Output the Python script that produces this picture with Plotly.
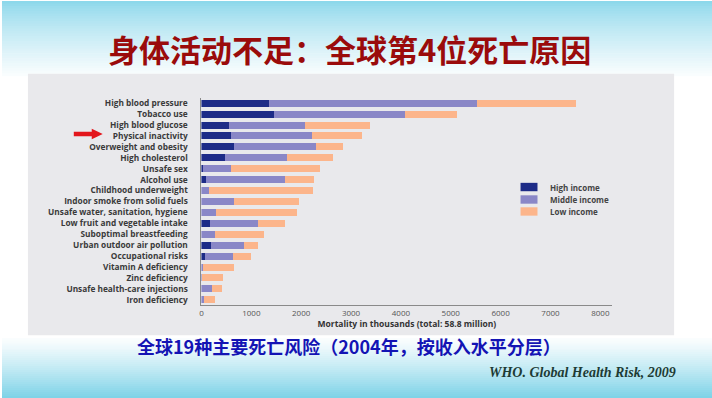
import plotly.graph_objects as go

W, H = 712, 398

categories = [
    "High blood pressure", "Tobacco use", "High blood glucose", "Physical inactivity",
    "Overweight and obesity", "High cholesterol", "Unsafe sex", "Alcohol use",
    "Childhood underweight", "Indoor smoke from solid fuels",
    "Unsafe water, sanitation, hygiene", "Low fruit and vegetable intake",
    "Suboptimal breastfeeding", "Urban outdoor air pollution", "Occupational risks",
    "Vitamin A deficiency", "Zinc deficiency", "Unsafe health-care injections",
    "Iron deficiency",
]
high_income = [1350, 1450, 550, 590, 660, 470, 27, 93, 0, 0, 0, 180, 0, 187, 73, 0, 0, 0, 0]
middle_income = [4180, 2625, 1530, 1620, 1635, 1245, 566, 1580, 153, 660, 293, 960, 273, 666, 567, 40, 20, 220, 47]
low_income = [1990, 1045, 1305, 1005, 535, 915, 1775, 580, 2080, 1305, 1615, 545, 975, 280, 345, 615, 415, 200, 220]
series_names = ["High income", "Middle income", "Low income"]
series_colors = ["#1d2b87", "#8a87c7", "#fcb58b"]
x_ticks = [0, 1000, 2000, 3000, 4000, 5000, 6000, 7000, 8000]

title_text = "身体活动不足：全球第4位死亡原因"
caption_text = "全球19种主要死亡风险（2004年，按收入水平分层）"
source_text = "WHO. Global Health Risk, 2009"
axis_title = "Mortality in thousands (total: 58.8 million)"


def px(x):
    return x / W


def py(y):
    return 1 - y / H


fig = go.Figure()
for name, vals, col in zip(series_names, [high_income, middle_income, low_income], series_colors):
    fig.add_trace(go.Bar(
        y=categories, x=vals, name=name, orientation="h",
        marker=dict(color=col, line=dict(width=0)), showlegend=False,
    ))

shapes = []


def lerp(c1, c2, t):
    return tuple(round(a + (b - a) * t) for a, b in zip(c1, c2))


top_c = (136, 214, 234)
white = (250, 253, 254)
bot_c = (124, 210, 231)
n = 30
for i in range(n):
    y0 = 75 * i / n
    y1 = 75 * (i + 1) / n + 0.5
    t = (i + 0.5) / n
    c = lerp(top_c, white, t ** 0.75)
    shapes.append(dict(type="rect", xref="paper", yref="paper", x0=0, x1=1,
                       y0=py(y1), y1=py(y0), fillcolor="rgb(%d,%d,%d)" % c,
                       line=dict(width=0), layer="below"))
for i in range(n):
    y0 = 338 + 60 * i / n
    y1 = 338 + 60 * (i + 1) / n + 0.5
    t = (i + 0.5) / n
    c = lerp(white, bot_c, t ** 1.2)
    shapes.append(dict(type="rect", xref="paper", yref="paper", x0=0, x1=1,
                       y0=py(y1), y1=py(y0), fillcolor="rgb(%d,%d,%d)" % c,
                       line=dict(width=0), layer="below"))
# chart panel
shapes.append(dict(type="rect", xref="paper", yref="paper", x0=px(26), x1=px(674),
                   y0=py(335), y1=py(73), fillcolor="#e9e9ec", line=dict(width=0), layer="below"))

# red arrow
pts = [(72, 131), (90, 131), (90, 128), (101, 133.3), (90, 138.6), (90, 135.6), (72, 135.6)]
path = "M " + " L ".join("%f,%f" % (px(a), py(b)) for a, b in pts) + " Z"
shapes.append(dict(type="path", xref="paper", yref="paper", path=path,
                   fillcolor="#e3161c", line=dict(width=0)))

annotations = []
leg_rows = [186.5, 199, 211]
for name, col, yc in zip(series_names, series_colors, leg_rows):
    shapes.append(dict(type="rect", xref="paper", yref="paper", x0=px(520), x1=px(537),
                       y0=py(yc + 4.2), y1=py(yc - 4.2), fillcolor=col, line=dict(width=0)))
    annotations.append(dict(text=name, xref="paper", yref="paper", x=px(548), y=py(yc),
                            xanchor="left", yanchor="middle", showarrow=False,
                            font=dict(family="Open Sans", size=8, color="#444", weight="bold")))

annotations.append(dict(text=title_text, xref="paper", yref="paper", x=px(348), y=py(48),
                        xanchor="center", yanchor="middle", showarrow=False,
                        font=dict(family="Noto Sans CJK SC", size=31, color="#9a0b0b", weight="bold")))
annotations.append(dict(text=caption_text, xref="paper", yref="paper", x=px(348), y=py(346),
                        xanchor="center", yanchor="middle", showarrow=False,
                        font=dict(family="Noto Sans CJK SC", size=18, color="#1414b4", weight="bold")))
annotations.append(dict(text="<b><i>" + source_text + "</i></b>", xref="paper", yref="paper",
                        x=px(678), y=py(372), xanchor="right", yanchor="middle", showarrow=False,
                        font=dict(family="Liberation Serif", size=14, color="#1d3b34")))

fig.update_layout(
    width=W, height=H, autosize=False,
    margin=dict(l=0, r=0, t=0, b=0),
    paper_bgcolor="white", plot_bgcolor="rgba(0,0,0,0)",
    barmode="stack", bargap=0.36,
    shapes=shapes, annotations=annotations,
    xaxis=dict(domain=[px(200), px(612)], range=[0, 8240], tickvals=x_ticks,
               tickfont=dict(family="Open Sans", size=8, color="#555"),
               showline=True, linecolor="#8a8a8a", linewidth=1, showgrid=False,
               zeroline=False, ticks="",
               title=dict(text=axis_title, standoff=3,
                          font=dict(family="Open Sans", size=8.5, color="#333", weight="bold"))),
    yaxis=dict(domain=[py(305), py(97)], categoryorder="array", categoryarray=categories,
               autorange="reversed", showline=True, linecolor="#8a8a8a", linewidth=1,
               showgrid=False, zeroline=False, ticks="", ticklabelstandoff=11,
               tickfont=dict(family="Open Sans", size=8.3, color="#3a3a3a", weight="bold")),
)

fig.write_html("out.html", config={"displayModeBar": False},
               post_script="document.body.style.margin='0';document.body.style.overflow='hidden';")
